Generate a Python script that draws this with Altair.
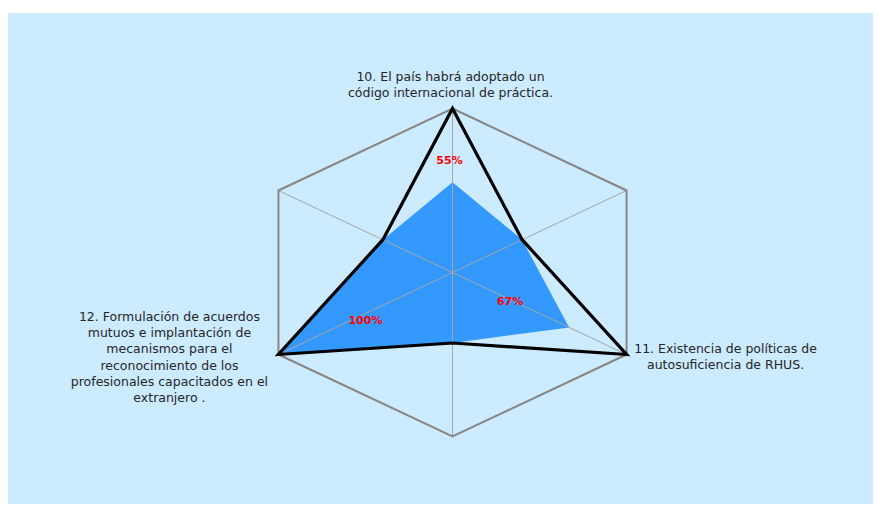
import altair as alt
import pandas as pd
import numpy as np

# ---- data ----
categorias = [
    "10. El país habrá adoptado un\ncódigo internacional de práctica.",
    "",
    "11. Existencia de políticas de\nautosuficiencia de RHUS.",
    "",
    "12. Formulación de acuerdos\nmutuos e implantación de\nmecanismos para el\nreconocimiento de los\nprofesionales capacitados en el\nextranjero .",
    "",
]
logro = [0.55, 0.40, 0.67, 0.43, 1.00, 0.40]
meta = [1.00, 0.40, 1.00, 0.43, 1.00, 0.40]

# ---- build tables ----
idx = np.arange(len(categorias))
ang = idx * np.pi / 3.0
sx, cy = np.sin(ang), np.cos(ang)

df_logro = pd.DataFrame({"idx": idx, "cat": categorias, "v": logro,
                         "x": np.array(logro) * sx, "y": np.array(logro) * cy})
df_logro["lab"] = [f"{round(v*100)}%" for v in logro]
df_meta = pd.DataFrame({"idx": idx, "v": meta,
                        "x": np.array(meta) * sx, "y": np.array(meta) * cy})
df_grid = pd.DataFrame({"idx": idx, "cat": categorias, "x": sx, "y": cy,
                        "x0": 0.0, "y0": 0.0})

W, H = 865, 491
CX, CY, RX, RY = 444.5, 259.5, 201.0, 164.0
xs = alt.Scale(domain=[-CX / RX, (W - CX) / RX], nice=False, zero=False)
ys = alt.Scale(domain=[-(H - CY) / RY, CY / RY], nice=False, zero=False)
X = alt.X("x:Q", scale=xs, axis=None)
Y = alt.Y("y:Q", scale=ys, axis=None)

fill = alt.Chart(df_logro).mark_line(
    interpolate="linear-closed", fill="#3399FF", stroke="#3399FF", strokeWidth=0
).encode(x=X, y=Y, order="idx:Q")

spokes = alt.Chart(df_grid).mark_rule(color="#A6A6A6", strokeWidth=1).encode(
    x=alt.X("x0:Q", scale=xs, axis=None), y=alt.Y("y0:Q", scale=ys, axis=None),
    x2="x:Q", y2="y:Q")

outline = alt.Chart(df_grid).mark_line(
    interpolate="linear-closed", color="#868686", strokeWidth=2
).encode(x=X, y=Y, order="idx:Q")

black = alt.Chart(df_meta).mark_line(
    interpolate="linear-closed", color="#000000", strokeWidth=3.2
).encode(x=X, y=Y, order="idx:Q")

FONT = "DejaVu Sans"
tcol = "#262626"

def cat_label(i, dx, dy):
    return alt.Chart(df_grid).transform_filter(f"datum.idx == {i}").mark_text(
        font=FONT, fontSize=12.5, color=tcol, align="center", baseline="middle",
        lineBreak="\n", lineHeight=16.2, dx=dx, dy=dy
    ).encode(x=X, y=Y, text="cat:N")

lab10 = cat_label(0, -2, -31.5)
lab11 = cat_label(2, 99, -5.5)
lab12 = cat_label(4, -109, -37.5)

def pct_label(i, dx, dy):
    return alt.Chart(df_logro).transform_filter(f"datum.idx == {i}").mark_text(
        font=FONT, fontSize=11, fontWeight="bold", color="#FF0000",
        align="center", baseline="middle", dx=dx, dy=dy
    ).encode(x=X, y=Y, text="lab:N")

p55 = pct_label(0, -3, -21)
p67 = pct_label(2, -59, -25)
p100 = pct_label(4, 87, -34)

chart = alt.layer(fill, spokes, outline, black, lab10, lab11, lab12, p55, p67, p100).properties(
    width=W, height=H,
    padding={"left": 0, "top": 5, "right": 0, "bottom": 0},
    autosize=alt.AutoSizeParams(type="none"),
    background="#FFFFFF",
).configure_view(fill="#CCEBFF", strokeWidth=0)

chart.save("out.html", embed_options={"renderer": "svg", "actions": False})
